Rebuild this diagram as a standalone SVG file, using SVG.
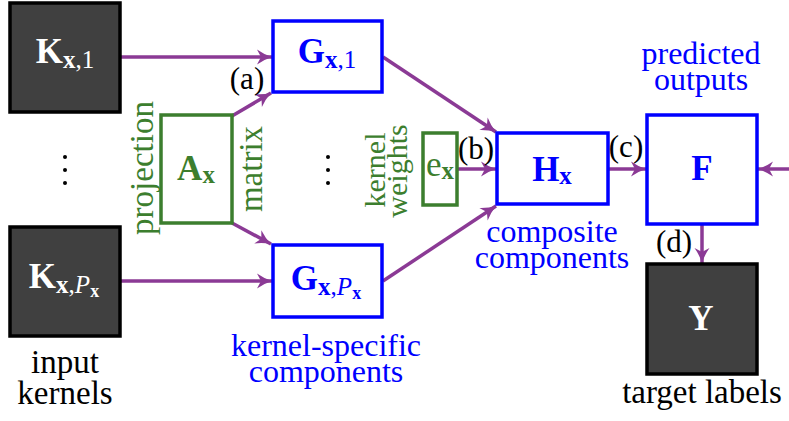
<svg xmlns="http://www.w3.org/2000/svg" width="789" height="421" viewBox="0 0 789 421" font-family="'Liberation Serif', 'Times New Roman', serif">
<style>
text{font-family:"Liberation Serif","Times New Roman",serif}
.dark{fill:#404040;stroke:#000;stroke-width:3.5}
.blue{fill:#fff;stroke:#0000ff;stroke-width:3.5}
.green{fill:#fff;stroke:#3c7e2e;stroke-width:3.5}
.wl{fill:#fff;font-weight:bold;font-size:35px;text-anchor:middle}
.bl{fill:#0000ff;font-weight:bold;font-size:35px;text-anchor:middle}
.gl{fill:#3c7e2e;font-size:35px;text-anchor:middle}
.sub{font-size:25px;font-weight:bold}
.subn{font-size:25px;font-weight:normal}
.cap{font-size:33px;text-anchor:middle}
.cap2{font-size:32px;text-anchor:middle}
.bt{fill:#0000ff}
.gt{fill:#3c7e2e}
.lab{font-size:31px;text-anchor:middle;fill:#000}
.conn line{stroke:#8b3a95;stroke-width:3.5;marker-end:url(#ah)}
.dot{fill:#000}
</style>
<defs>
<marker id="ah" viewBox="-16 -8 17 16" refX="0" refY="0" markerWidth="17" markerHeight="16" markerUnits="userSpaceOnUse" orient="auto">
<path d="M0,0 Q-8,-2.5 -15,-7.5 L-11,0 L-15,7.5 Q-8,2.5 0,0 Z" fill="#8b3a95"/>
</marker>
</defs>

<g id="connectors" class="conn">
<line x1="120" y1="57" x2="272" y2="57"/>
<line x1="120" y1="281" x2="272" y2="281"/>
<line x1="232" y1="116" x2="271" y2="93"/>
<line x1="232" y1="223" x2="271" y2="244"/>
<line x1="383" y1="57" x2="496" y2="132"/>
<line x1="383" y1="281" x2="496" y2="206"/>
<line x1="458" y1="169" x2="496" y2="169"/>
<line x1="609" y1="169" x2="646" y2="169"/>
<line x1="789" y1="169" x2="758" y2="169"/>
<line x1="702" y1="225" x2="702" y2="263"/>
</g>

<g id="K1">
<rect class="dark" x="10" y="3" width="110" height="109"/>
<text class="wl" x="65" y="63">K<tspan class="sub" dy="5">x</tspan><tspan class="subn">,1</tspan></text>
</g>
<g id="KP">
<rect class="dark" x="10" y="227" width="110" height="109"/>
<text class="wl" x="64" y="288">K<tspan class="sub" dy="5">x</tspan><tspan class="subn">,</tspan><tspan class="subn" font-style="italic">P</tspan><tspan font-size="18" font-weight="bold" dy="4">x</tspan></text>
</g>
<g id="kdots">
<circle class="dot" cx="65" cy="157" r="2"/>
<circle class="dot" cx="65" cy="170" r="2"/>
<circle class="dot" cx="65" cy="183" r="2"/>
</g>
<g id="input-label">
<text class="cap" x="65" y="373">input<tspan x="65" dy="31">kernels</tspan></text>
</g>

<g id="A">
<rect class="green" x="161" y="115" width="71" height="108"/>
<text class="gl" x="196" y="180" font-weight="bold">A<tspan class="sub" dy="3">x</tspan></text>
<text class="cap gt" transform="translate(153,168) rotate(-90)">projection</text>
<text class="cap gt" transform="translate(262,169) rotate(-90)">matrix</text>
</g>

<g id="G1">
<rect class="blue" x="273" y="21" width="109" height="71"/>
<text class="bl" x="327" y="63">G<tspan class="sub" dy="5">x</tspan><tspan class="subn">,1</tspan></text>
</g>
<g id="GP">
<rect class="blue" x="273" y="245" width="109" height="72"/>
<text class="bl" x="326" y="290">G<tspan class="sub" dy="5">x</tspan><tspan class="subn">,</tspan><tspan class="subn" font-style="italic">P</tspan><tspan font-size="18" font-weight="bold" dy="4">x</tspan></text>
</g>
<g id="gdots">
<circle class="dot" cx="328" cy="157" r="2"/>
<circle class="dot" cx="328" cy="170" r="2"/>
<circle class="dot" cx="328" cy="183" r="2"/>
</g>
<g id="ksc-label">
<text class="cap2 bt" x="326" y="356">kernel-specific<tspan x="326" dy="26">components</tspan></text>
</g>

<g id="e">
<rect class="green" x="423" y="133" width="34" height="72"/>
<text class="gl" x="440" y="176">e<tspan class="sub" dy="3">x</tspan></text>
<text class="gt" font-size="30" text-anchor="middle" transform="translate(385,170) rotate(-90)">kernel<tspan x="-1" dy="22">weights</tspan></text>
</g>

<g id="H">
<rect class="blue" x="497" y="133" width="111" height="71"/>
<text class="bl" x="552" y="181">H<tspan class="sub" dy="3">x</tspan></text>
</g>
<g id="cc-label">
<text class="cap2 bt" x="552" y="242">composite<tspan x="552" dy="26">components</tspan></text>
</g>

<g id="F">
<rect class="blue" x="647" y="115" width="110" height="109"/>
<text class="bl" x="702" y="180">F</text>
</g>
<g id="po-label">
<text class="cap2 bt" x="701" y="64">predicted<tspan x="701" dy="26">outputs</tspan></text>
</g>

<g id="Y">
<rect class="dark" x="647" y="264" width="110" height="110"/>
<text class="wl" x="701" y="330">Y</text>
</g>
<g id="tl-label">
<text class="cap" x="702" y="403">target labels</text>
</g>

<g id="step-labels">
<text class="lab" x="247" y="89">(a)</text>
<text class="lab" x="476" y="159">(b)</text>
<text class="lab" x="626" y="157">(c)</text>
<text class="lab" x="674" y="252">(d)</text>
</g>
</svg>
